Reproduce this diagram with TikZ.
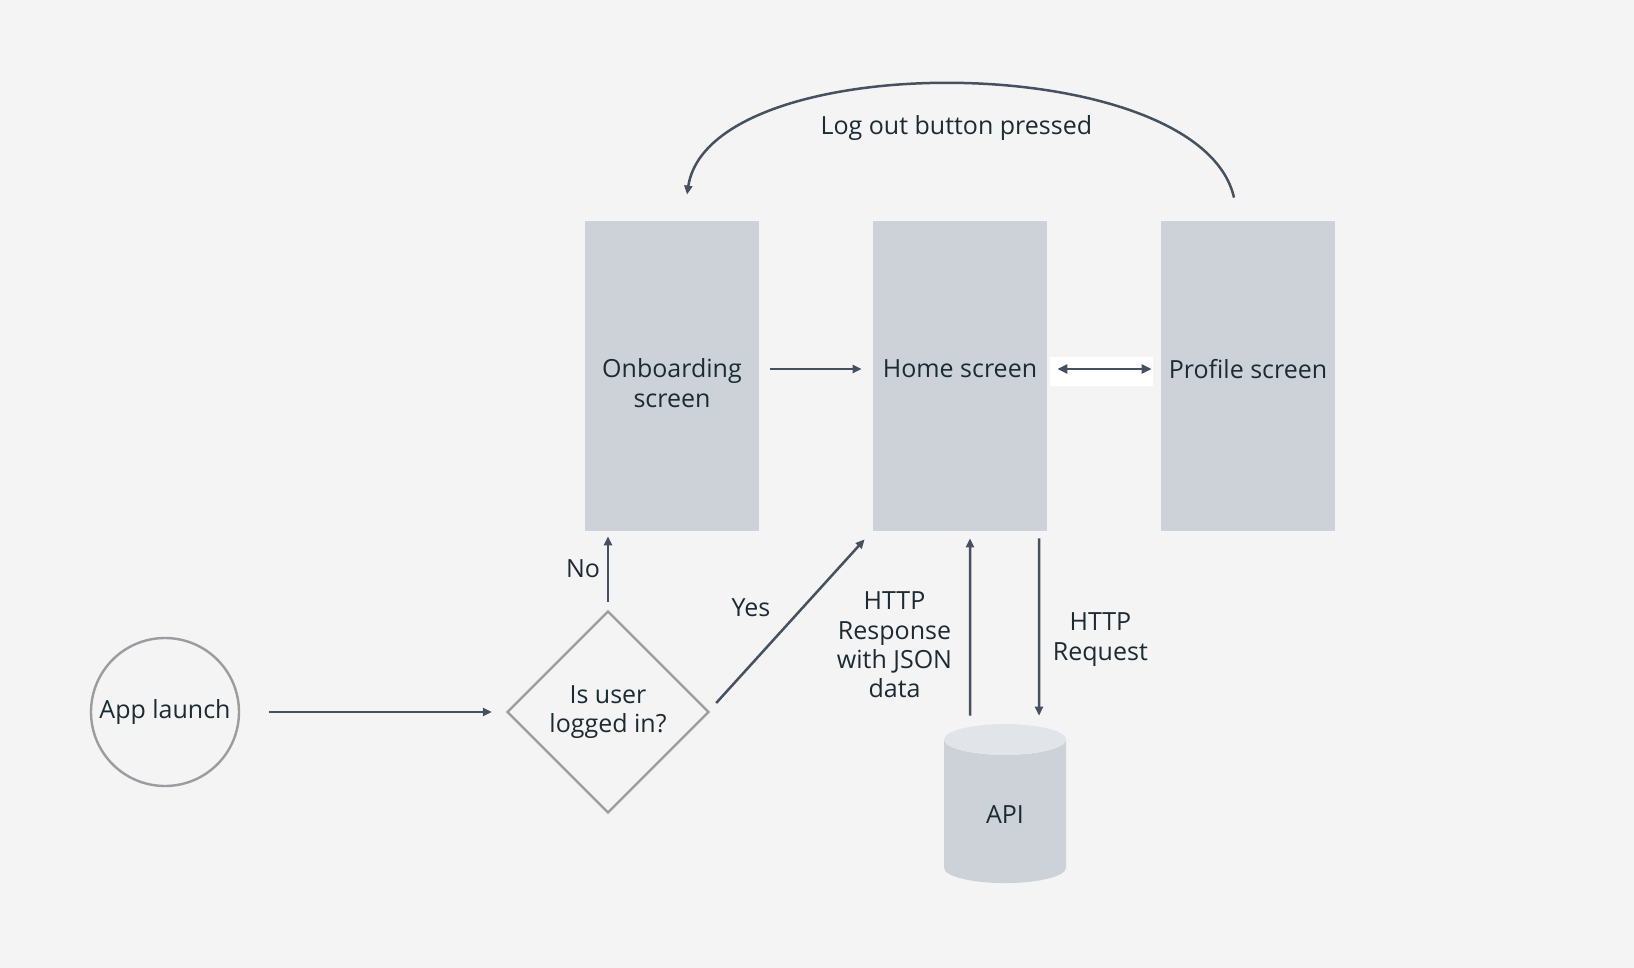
\documentclass[tikz,border=0pt]{standalone}
\usepackage{fontspec}
\setmainfont{Open Sans}
\usetikzlibrary{shapes.geometric,arrows.meta}
\definecolor{bgcol}{HTML}{F4F4F4}
\definecolor{boxcol}{HTML}{CDD2D9}
\definecolor{topcol}{HTML}{E1E4E8}
\definecolor{linecol}{HTML}{45515F}
\definecolor{rimcol}{HTML}{9C9CA0}
\definecolor{txtcol}{HTML}{1C2B33}

\tikzset{
  every node/.style={text=txtcol, font=\fontsize{12.5pt}{14.6pt}\selectfont},
  screen/.style={rectangle, fill=boxcol, minimum width=87pt, minimum height=155pt, align=center},
  launch/.style={circle, draw=rimcol, line width=1.2pt, minimum size=74pt, inner sep=0pt},
  decide/.style={diamond, draw=rimcol, line width=1.2pt, minimum size=101pt, inner sep=0pt, align=center},
  store/.style={cylinder, shape border rotate=90, aspect=0.6, cylinder uses custom fill,
    cylinder body fill=boxcol, cylinder end fill=topcol, minimum width=61pt, minimum height=79.5pt},
  flow/.style={draw=linecol, line width=1.25pt, -{Triangle[length=4.5pt,width=4pt]}},
  twoway/.style={draw=linecol, line width=1.25pt, {Triangle[length=5pt,width=4.5pt]}-{Triangle[length=5pt,width=4.5pt]}}
}

\begin{document}
\begin{tikzpicture}[x=0.5pt,y=-0.5pt]
  \fill[bgcol] (0,0) rectangle (1634,968);
  \useasboundingbox (0,0) rectangle (1634,968);

  % screens
  \node[screen, text height=31.3pt] (onb) at (672,376) {Onboarding\\screen};
  \node[screen, text depth=7pt] (home) at (960,376) {Home screen};
  \node[screen, text depth=7pt] (prof) at (1248,376) {Profile screen};

  % start and decision
  \node[launch] (app) at (165,712) {App launch};
  \node[decide] (ask) at (608,712) {Is user\\logged in?};
  \node[store] (api) at (1005,815) {API};

  % connectors
  \draw[flow] ([xshift=14.5pt]app.east) -- ([xshift=-7pt]ask.west);
  \draw[flow] ([yshift=4pt]ask.north) -- node[left=0pt] {No} ([yshift=-2.5pt]ask.north |- onb.south);
  \draw[flow] ([xshift=3pt,yshift=4.5pt]ask.east) -- node[left=12pt, pos=0.58] {Yes} ([xshift=-4pt,yshift=-4pt]home.south west);
  \draw[flow] ([xshift=5.5pt,yshift=3.5pt]onb.east) -- ([xshift=-5.5pt,yshift=3.5pt]home.west);
  \fill[white] (1050,357) rectangle (1153,386);
  \draw[twoway] ([xshift=5pt,yshift=3.5pt]home.east) -- ([xshift=-4.5pt,yshift=3.5pt]prof.west);
  \draw[flow] ([xshift=-17.5pt,yshift=4pt]api.north) -- node[left=5pt, align=center, pos=0.4] {HTTP\\Response\\with JSON\\data} ([xshift=5pt,yshift=-3.5pt]home.south);
  \draw[flow] ([xshift=39.5pt,yshift=-3.5pt]home.south) -- node[right=3pt, align=center, pos=0.57] {HTTP\\Request} ([xshift=17pt,yshift=4pt]api.north);

  % log out loop
  \coordinate (outA) at ([xshift=-7pt,yshift=11.5pt]prof.north);
  \coordinate (outB) at ([xshift=7.5pt,yshift=13pt]onb.north);
  \draw[flow] (outA) .. controls (1200,48) and (710,45) .. node[below=12pt] {Log out button pressed} (outB);
\end{tikzpicture}
\end{document}
